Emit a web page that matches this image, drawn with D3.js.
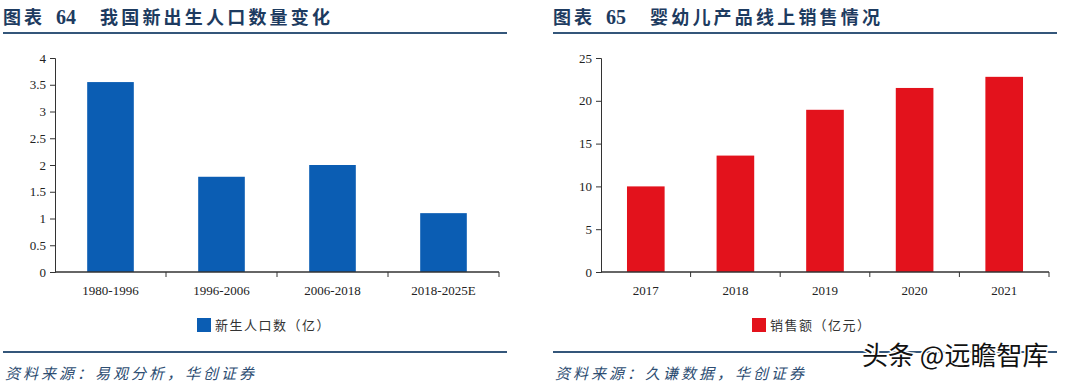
<!DOCTYPE html>
<html lang="zh">
<head>
<meta charset="utf-8">
<title>图表 64 / 65</title>
<script src="https://d3js.org/d3.v7.min.js"></script>
<style>
  body { margin: 0; background: #fff; }
  svg { display: block; }
  .tick text { font-family: "Liberation Serif", "DejaVu Serif", serif; font-size: 13px; fill: #222; }
  .tick line, .domain { stroke: #333; }
</style>
</head>
<body>
<script>
// chart 64 data
var birthCats = ["1980-1996", "1996-2006", "2006-2018", "2018-2025E"];
var birthVals = [3.55, 1.78, 2.0, 1.1];
var birthTicks = [0, 0.5, 1, 1.5, 2, 2.5, 3, 3.5, 4];

// chart 65 data
var salesCats = ["2017", "2018", "2019", "2020", "2021"];
var salesVals = [10.0, 13.6, 18.95, 21.5, 22.8];
var salesTicks = [0, 5, 10, 15, 20, 25];

var width = 1080, height = 386;
var navy = "#1d3b60";
var lineCol = "#34567a";

var svg = d3.select("body").append("svg")
  .attr("width", width)
  .attr("height", height);

function drawPanel(opt) {
  var g = svg.append("g");

  // title
  var t = g.append("text")
    .attr("y", 24)
    .attr("fill", navy)
    .attr("font-weight", "bold")
    .attr("font-size", 18);
  t.append("tspan").attr("x", opt.left0).attr("font-family", "Noto Sans CJK SC")
    .attr("letter-spacing", 3).text("图表");
  t.append("tspan").attr("x", opt.left0 + 53).attr("font-family", "Liberation Serif")
    .attr("font-size", 20).text(opt.num);
  t.append("tspan").attr("x", opt.left0 + 97).attr("font-family", "Noto Sans CJK SC")
    .attr("letter-spacing", 3.2).text(opt.title);

  g.append("line")
    .attr("x1", opt.left0).attr("x2", opt.left0 + 504)
    .attr("y1", 33).attr("y2", 33)
    .attr("stroke", lineCol).attr("stroke-width", 2);

  var x = d3.scaleBand()
    .domain(opt.cats)
    .range([opt.axisX, opt.axisRight])
    .paddingInner(0.58)
    .paddingOuter(0.29);

  var y = d3.scaleLinear()
    .domain([0, d3.max(opt.ticks)])
    .range([272, 58]);

  // bars
  g.selectAll("rect.bar")
    .data(opt.vals)
    .enter()
    .append("rect")
    .attr("class", "bar")
    .attr("x", function(d, i) { return x(opt.cats[i]); })
    .attr("width", x.bandwidth())
    .attr("y", function(d) { return y(d); })
    .attr("height", function(d) { return y(0) - y(d); })
    .attr("fill", opt.color);

  // y axis
  g.append("g")
    .attr("transform", "translate(" + opt.axisX + ",0)")
    .call(d3.axisLeft(y).tickValues(opt.ticks).tickSize(5).tickPadding(4)
      .tickFormat(function(d) { return d; }));

  // x axis with ticks at band edges
  var xa = g.append("g")
    .attr("transform", "translate(0,272)");
  xa.append("line")
    .attr("x1", opt.axisX).attr("x2", opt.axisRight)
    .attr("stroke", "#333").attr("stroke-width", 1.5);
  var step = x.step();
  var edges = opt.cats.map(function(c) { return x(c) - x.paddingOuter() * step + step; });
  xa.selectAll("line.edge")
    .data(edges)
    .enter()
    .append("line")
    .attr("class", "edge")
    .attr("x1", function(d) { return d; }).attr("x2", function(d) { return d; })
    .attr("y1", 0).attr("y2", 5)
    .attr("stroke", "#333");
  xa.selectAll("text")
    .data(opt.cats)
    .enter()
    .append("text")
    .attr("x", function(c) { return x(c) + x.bandwidth() / 2; })
    .attr("y", 23)
    .attr("text-anchor", "middle")
    .attr("font-family", "Liberation Serif")
    .attr("font-size", 13)
    .attr("fill", "#222")
    .text(function(c) { return c; });

  // legend
  g.append("rect")
    .attr("x", opt.legendX).attr("y", 318)
    .attr("width", 14).attr("height", 14)
    .attr("fill", opt.color);
  g.append("text")
    .attr("x", opt.legendX + 18).attr("y", 330)
    .attr("font-family", "Noto Sans CJK SC")
    .attr("font-size", 13)
    .attr("letter-spacing", 1.5)
    .attr("fill", "#333")
    .text(opt.legend);

  // bottom line + source
  g.append("line")
    .attr("x1", opt.left0).attr("x2", opt.left0 + 504)
    .attr("y1", 352).attr("y2", 352)
    .attr("stroke", lineCol).attr("stroke-width", 2);
  g.append("text")
    .attr("x", opt.left0 + 2).attr("y", 379)
    .attr("font-family", "Noto Sans CJK SC")
    .attr("font-style", "italic")
    .attr("font-size", 15)
    .attr("letter-spacing", 3)
    .attr("fill", "#2d4d72")
    .text(opt.source);
}

drawPanel({
  left0: 3, num: "64", title: "我国新出生人口数量变化",
  cats: birthCats, vals: birthVals, ticks: birthTicks,
  axisX: 55, axisRight: 499, color: "#0b5db3",
  legendX: 197, legend: "新生人口数（亿）",
  source: "资料来源：易观分析，华创证券"
});

drawPanel({
  left0: 553, num: "65", title: "婴幼儿产品线上销售情况",
  cats: salesCats, vals: salesVals, ticks: salesTicks,
  axisX: 601, axisRight: 1049, color: "#e3121c",
  legendX: 752, legend: "销售额（亿元）",
  source: "资料来源：久谦数据，华创证券"
});

// watermark
svg.append("text")
  .attr("x", 862).attr("y", 365)
  .attr("font-family", "Noto Sans CJK SC")
  .attr("font-size", 26)
  .attr("fill", "#111")
  .attr("stroke", "#fff")
  .attr("stroke-width", 3)
  .attr("paint-order", "stroke")
  .text("头条 @远瞻智库");
</script>
</body>
</html>
